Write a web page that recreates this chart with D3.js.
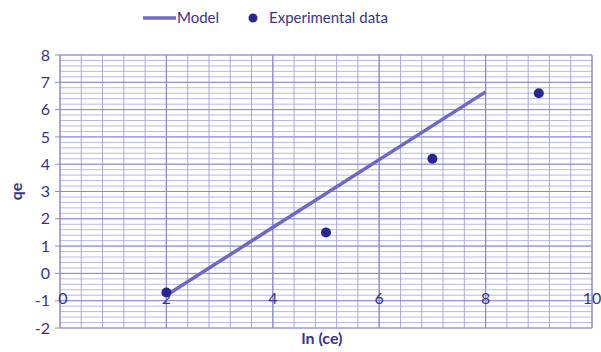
<!DOCTYPE html>
<html>
<head>
<meta charset="utf-8">
<script src="https://cdn.jsdelivr.net/npm/d3@7"></script>
<style>
  body { margin: 0; background: #fff; }
  text { font-family: Lato, "Open Sans", sans-serif; fill: #38348c; }
</style>
</head>
<body>
<div id="chart"></div>
<script>
// data
var expX = [2, 5, 7, 9];
var expY = [-0.7, 1.5, 4.2, 6.6];
var modelX = [2, 8];
var modelY = [-0.8, 6.65];
var xTicks = [0, 2, 4, 6, 8, 10];
var yTicks = [-2, -1, 0, 1, 2, 3, 4, 5, 6, 7, 8];

var svg = d3.select("#chart").append("svg").attr("width", 601).attr("height", 352),
    margin = {top: 55, right: 9, bottom: 24, left: 60},
    width = +svg.attr("width") - margin.left - margin.right,
    height = +svg.attr("height") - margin.top - margin.bottom;

var x = d3.scaleLinear().domain([0, 10]).range([0, width]);
var y = d3.scaleLinear().domain([-2, 8]).range([height, 0]);

var g = svg.append("g")
    .attr("transform", "translate(" + margin.left + "," + margin.top + ")");

// minor grid
g.append("g")
    .selectAll("line.hminor")
    .data(d3.range(-2, 8.01, 0.2))
    .enter().append("line")
    .attr("x1", 0).attr("x2", width)
    .attr("y1", function(d) { return y(d); })
    .attr("y2", function(d) { return y(d); })
    .attr("stroke", "#b9b8e6").attr("stroke-width", 1);

g.append("g")
    .selectAll("line.vminor")
    .data(d3.range(0, 10.01, 0.4))
    .enter().append("line")
    .attr("y1", 0).attr("y2", height)
    .attr("x1", function(d) { return x(d); })
    .attr("x2", function(d) { return x(d); })
    .attr("stroke", "#aaa8df").attr("stroke-width", 1);

// major grid
g.append("g")
    .selectAll("line")
    .data(yTicks)
    .enter().append("line")
    .attr("x1", -5).attr("x2", width)
    .attr("y1", function(d) { return y(d); })
    .attr("y2", function(d) { return y(d); })
    .attr("stroke", "#8c89d2").attr("stroke-width", 1);

g.append("g")
    .selectAll("line")
    .data(xTicks)
    .enter().append("line")
    .attr("y1", 0).attr("y2", height)
    .attr("x1", function(d) { return x(d); })
    .attr("x2", function(d) { return x(d); })
    .attr("stroke", "#8c89d2").attr("stroke-width", 1.2);

// y tick labels
g.append("g")
    .selectAll("text")
    .data(yTicks)
    .enter().append("text")
    .attr("x", -10)
    .attr("y", function(d) { return y(d); })
    .attr("dy", "0.35em")
    .attr("text-anchor", "end")
    .style("font-size", "16px")
    .text(function(d) { return d; });

// x tick labels sit on the y = -1 line
g.append("g")
    .selectAll("text")
    .data(xTicks)
    .enter().append("text")
    .attr("x", function(d) { return x(d) + (d === 0 ? 3 : 0); })
    .attr("y", y(-1) - 2)
    .attr("dy", "0.35em")
    .attr("text-anchor", "middle")
    .style("font-size", "16px")
    .text(function(d) { return d; });

// model line
var line = d3.line()
    .x(function(d) { return x(d[0]); })
    .y(function(d) { return y(d[1]); });

g.append("path")
    .datum(d3.zip(modelX, modelY))
    .attr("d", line)
    .attr("fill", "none")
    .attr("stroke", "#6c68c4")
    .attr("stroke-width", 3.5);

// experimental points
g.selectAll("circle")
    .data(d3.zip(expX, expY))
    .enter().append("circle")
    .attr("cx", function(d) { return x(d[0]); })
    .attr("cy", function(d) { return y(d[1]); })
    .attr("r", 5)
    .attr("fill", "#2a2590");

// axis titles
svg.append("text")
    .attr("x", 322)
    .attr("y", 344)
    .attr("text-anchor", "middle")
    .style("font-size", "16px")
    .style("font-weight", "bold")
    .text("ln (ce)");

svg.append("text")
    .attr("transform", "translate(22," + (margin.top + y(3)) + ") rotate(-90)")
    .attr("text-anchor", "middle")
    .style("font-size", "16px")
    .style("font-weight", "bold")
    .text("qe");

// legend
var legend = svg.append("g");
legend.append("line")
    .attr("x1", 143).attr("x2", 176)
    .attr("y1", 18).attr("y2", 18)
    .attr("stroke", "#6c68c4").attr("stroke-width", 3.5);
legend.append("text")
    .attr("x", 177).attr("y", 18).attr("dy", "0.35em")
    .style("font-size", "15px")
    .text("Model");
legend.append("circle")
    .attr("cx", 253).attr("cy", 18).attr("r", 4.5)
    .attr("fill", "#2a2590");
legend.append("text")
    .attr("x", 269).attr("y", 18).attr("dy", "0.35em")
    .style("font-size", "15px")
    .text("Experimental data");
</script>
</body>
</html>
